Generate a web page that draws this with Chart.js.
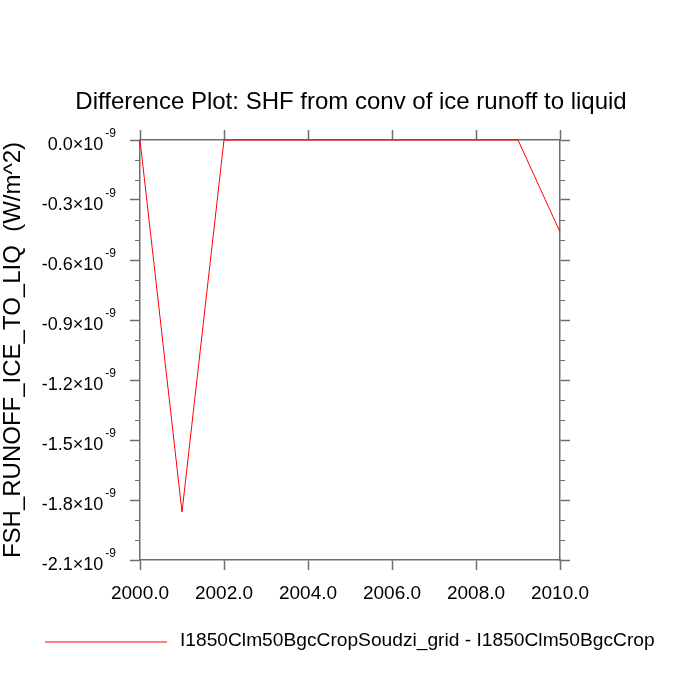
<!DOCTYPE html>
<html>
<head>
<meta charset="utf-8">
<script src="https://cdn.jsdelivr.net/npm/chart.js@4"></script>
<style>
  body { margin: 0; background: #fff; }
  canvas { display: block; }
</style>
</head>
<body>
<canvas id="chart" width="700" height="700"></canvas>
<script>
// data
const years = [2000, 2001, 2002, 2003, 2004, 2005, 2006, 2007, 2008, 2009, 2010];
const diff = [0, -1.86e-9, 0, 0, 0, 0, 0, 0, 0, 0, -0.46e-9];
const xTicks = [2000, 2002, 2004, 2006, 2008, 2010];
const yTicks = [0, -0.3, -0.6, -0.9, -1.2, -1.5, -1.8, -2.1];   // x 10^-9
const yMinor = [-0.1, -0.2, -0.4, -0.5, -0.7, -0.8, -1.0, -1.1, -1.3, -1.4, -1.6, -1.7, -1.9, -2.0];
const seriesName = "I1850Clm50BgcCropSoudzi_grid - I1850Clm50BgcCrop";
const titleText = "Difference Plot: SHF from conv of ice runoff to liquid";
const yTitle = "FSH_RUNOFF_ICE_TO_LIQ  (W/m^2)";

const FONT = "'Liberation Sans', Arial, sans-serif";
const AXIS = "#6e6e6e";
const LINE = "#ff0000";

const fixSize = (prop, v) => (s) => { s[prop] = v; };

const extras = {
    id: "extras",
    afterDraw(chart) {
        const ctx = chart.ctx;
        const y = chart.scales.y;
        const area = chart.chartArea;
        ctx.save();

        // minor ticks, both sides
        ctx.strokeStyle = AXIS;
        ctx.lineWidth = 1;
        yMinor.forEach(v => {
            const py = Math.round(y.getPixelForValue(v * 1e-9)) + 0.5;
            ctx.beginPath();
            ctx.moveTo(area.left - 5, py); ctx.lineTo(area.left, py);
            ctx.moveTo(area.right, py); ctx.lineTo(area.right + 5, py);
            ctx.stroke();
        });

        // y tick labels with superscript
        ctx.fillStyle = "#000";
        ctx.textBaseline = "middle";
        yTicks.forEach(v => {
            const py = y.getPixelForValue(v * 1e-9);
            const right = 116;
            ctx.font = "12px " + FONT;
            const sw = ctx.measureText("-9").width;
            ctx.textAlign = "left";
            ctx.fillText("-9", right - sw, py - 6);
            ctx.font = "18px " + FONT;
            ctx.textAlign = "right";
            ctx.fillText(v.toFixed(1) + "\u00d710", right - sw - 2, py + 5);
        });

        // title
        ctx.font = "24px " + FONT;
        ctx.textAlign = "center";
        ctx.fillText(titleText, 351, 102);

        // y axis title
        ctx.save();
        ctx.translate(13, 350);
        ctx.rotate(-Math.PI / 2);
        ctx.font = "24px " + FONT;
        ctx.fillText(yTitle, 0, 0);
        ctx.restore();

        // legend
        ctx.strokeStyle = LINE;
        ctx.lineWidth = 1.2;
        ctx.beginPath();
        ctx.moveTo(45, 642); ctx.lineTo(167, 642);
        ctx.stroke();
        ctx.font = "19.2px " + FONT;
        ctx.textAlign = "left";
        ctx.fillText(chart.data.datasets[0].label, 180, 641);

        ctx.restore();
    }
};

const gridOpts = { drawOnChartArea: false, tickLength: 10, tickColor: AXIS, tickWidth: 1.5 };
const borderOpts = { color: AXIS, width: 1.5 };

new Chart(document.getElementById("chart"), {
    type: "line",
    data: {
        datasets: [{
            label: seriesName,
            data: years.map((yr, i) => ({ x: yr, y: diff[i] })),
            borderColor: LINE,
            borderWidth: 1,
            pointRadius: 0,
            tension: 0,
            clip: false
        }]
    },
    options: {
        responsive: false,
        animation: false,
        devicePixelRatio: 1,
        layout: { padding: 0 },
        plugins: { legend: { display: false }, title: { display: false }, tooltip: { enabled: false } },
        scales: {
            x: {
                type: "linear", position: "bottom", min: 2000, max: 2010,
                afterBuildTicks: s => { s.ticks = xTicks.map(v => ({ value: v })); },
                afterFit: fixSize("height", 140),
                ticks: { color: "#000", font: { family: FONT, size: 19 }, padding: 12, maxRotation: 0,
                         callback: v => v.toFixed(1) },
                grid: gridOpts, border: borderOpts
            },
            x2: {
                type: "linear", position: "top", min: 2000, max: 2010,
                afterBuildTicks: s => { s.ticks = xTicks.map(v => ({ value: v })); },
                afterFit: fixSize("height", 140),
                ticks: { display: false },
                grid: gridOpts, border: borderOpts
            },
            y: {
                type: "linear", position: "left", min: -2.1e-9, max: 0,
                afterBuildTicks: s => { s.ticks = yTicks.map(v => ({ value: v * 1e-9 })); },
                afterFit: fixSize("width", 140),
                ticks: { display: false },
                grid: gridOpts, border: borderOpts
            },
            y2: {
                type: "linear", position: "right", min: -2.1e-9, max: 0,
                afterBuildTicks: s => { s.ticks = yTicks.map(v => ({ value: v * 1e-9 })); },
                afterFit: fixSize("width", 140),
                ticks: { display: false },
                grid: gridOpts, border: borderOpts
            }
        }
    },
    plugins: [extras]
});
</script>
</body>
</html>
